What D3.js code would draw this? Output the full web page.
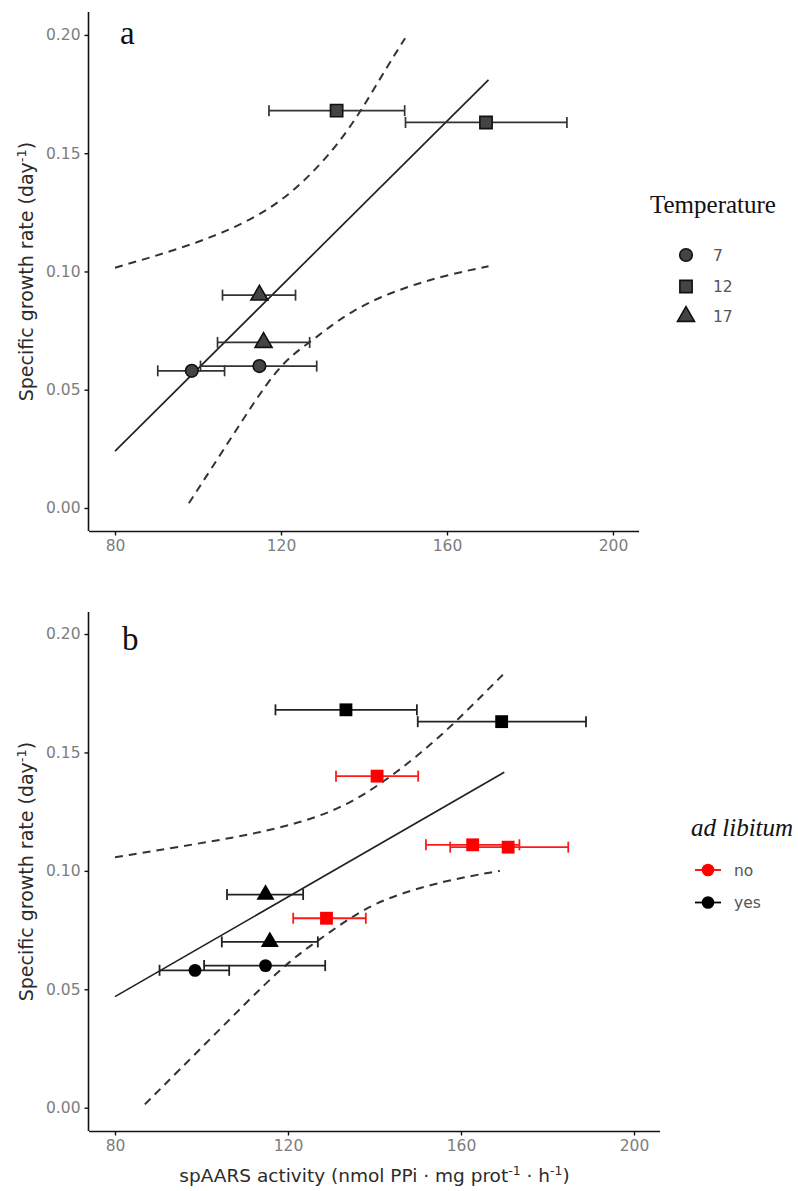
<!DOCTYPE html>
<html><head><meta charset="utf-8">
<script src="https://cdn.jsdelivr.net/npm/d3@7"></script>
<style>body{margin:0;background:#fff}svg{display:block}</style>
</head><body>
<script>
// ---------- data ----------
const xTicks = [80, 120, 160, 200];
const yTicks = [0, 0.05, 0.10, 0.15, 0.20];
const yTickLabels = ["0.00", "0.05", "0.10", "0.15", "0.20"];

const tempLevels = ["7", "12", "17"];
const tempShapes = ["circle", "square", "triangle"];
// panel a points (also ad libitum = yes in panel b)
const ptTemp = ["7", "7", "12", "12", "17", "17"];
const ptX    = [98.5, 114.8, 133.4, 169.4, 115.8, 114.8];
const ptY    = [0.058, 0.060, 0.168, 0.163, 0.070, 0.090];
const ptXmin = [90.3, 100.6, 117.1, 150.0, 104.7, 105.9];
const ptXmax = [106.4, 128.6, 149.8, 188.9, 126.9, 123.5];
// ad libitum = no (panel b, red squares)
const noX    = [140.6, 162.7, 170.9, 128.9];
const noY    = [0.140, 0.111, 0.110, 0.080];
const noXmin = [131.1, 151.9, 157.5, 121.2];
const noXmax = [150.1, 173.5, 184.8, 138.0];
const adlibLevels = ["no", "yes"];

// regression fit and confidence bands
const fitAx = [80, 170],  fitAy = [0.024, 0.181];
const upAx = [80, 100.5, 116.5, 127, 136.6, 144.6, 149.9];
const upAy = [0.1016, 0.112, 0.1246, 0.140, 0.1598, 0.1838, 0.1986];
const loAx = [97.8, 108.5, 119.3, 126.6, 132.0, 137.0, 143.9, 151.9, 159.9, 170.0];
const loAy = [0.002, 0.031, 0.0605, 0.0696, 0.077, 0.083, 0.0893, 0.0943, 0.0985, 0.1022];

const fitBx = [80, 170],  fitBy = [0.0469, 0.1416];
const upBx = [80, 99.7, 115, 130.4, 142, 153.6, 161.3, 170];
const upBy = [0.1057, 0.1116, 0.1165, 0.1243, 0.137, 0.154, 0.1675, 0.1834];
const loBx = [86.9, 102.7, 118.9, 126.6, 133.6, 142, 156.7, 169];
const loBy = [0.0014, 0.0302, 0.0602, 0.0701, 0.0793, 0.0884, 0.0961, 0.100];

// ---------- drawing ----------
const svg = d3.select("body").append("svg").attr("width", 798).attr("height", 1191);
svg.append("rect").attr("width", 798).attr("height", 1191).attr("fill", "#fff");

const sans = "DejaVu Sans, Verdana, sans-serif";
const serif = "Liberation Serif, Times New Roman, serif";

function symPath(shape, size) {
  const t = shape === "circle" ? d3.symbolCircle : shape === "square" ? d3.symbolSquare : d3.symbolTriangle;
  return d3.symbol().type(t).size(size)();
}
const shapeSize = {circle: 125, square: 150, triangle: 125};

function panel(cfg) {
  const x = d3.scaleLinear().domain(cfg.xd).range([cfg.left, cfg.right]);
  const y = d3.scaleLinear().domain(cfg.yd).range([cfg.bottom, cfg.top]);
  const g = svg.append("g");

  const xa = g.append("g").attr("transform", `translate(0,${cfg.bottom})`)
    .call(d3.axisBottom(x).tickValues(xTicks).tickSize(4.5).tickPadding(4).tickFormat(d3.format("d")));
  const ya = g.append("g").attr("transform", `translate(${cfg.left},0)`)
    .call(d3.axisLeft(y).tickValues(yTicks).tickSize(4.5).tickPadding(4).tickFormat((d, i) => yTickLabels[i]));
  [xa, ya].forEach(a => {
    a.select(".domain").attr("stroke", "#111").attr("stroke-width", 1.6);
    a.selectAll(".tick line").attr("stroke", "#111").attr("stroke-width", 1.4);
    a.selectAll(".tick text").attr("fill", "#7d7d7d").style("font-family", sans).style("font-size", "15.5px");
  });
  xa.select(".domain").attr("d", `M${cfg.left},0.5H${cfg.right}`);
  ya.select(".domain").attr("d", `M-0.5,${cfg.bottom}V${cfg.top}`);

  const yt = g.append("text")
    .attr("transform", `translate(${cfg.ytx},${(cfg.top + cfg.bottom) / 2}) rotate(-90)`)
    .attr("text-anchor", "middle").attr("fill", "#2b2b2b")
    .style("font-family", sans).style("font-size", "19px");
  yt.append("tspan").text("Specific growth rate (day");
  yt.append("tspan").attr("dy", -7).style("font-size", "13px").text("-1");
  yt.append("tspan").attr("dy", 7).text(")");

  g.append("text").attr("x", cfg.labX).attr("y", cfg.labY).text(cfg.label)
    .style("font-family", serif).style("font-size", "33px").attr("fill", "#111");

  const line = d3.line().x(d => x(d[0])).y(d => y(d[1]));
  const curve = d3.line().x(d => x(d[0])).y(d => y(d[1])).curve(d3.curveBasis);

  g.append("path").attr("d", curve(d3.zip(cfg.upx, cfg.upy))).attr("fill", "none")
    .attr("stroke", "#333").attr("stroke-width", 2).attr("stroke-dasharray", "8,6");
  g.append("path").attr("d", curve(d3.zip(cfg.lox, cfg.loy))).attr("fill", "none")
    .attr("stroke", "#333").attr("stroke-width", 2).attr("stroke-dasharray", "8,6");
  g.append("path").attr("d", line(d3.zip(cfg.fitx, cfg.fity))).attr("fill", "none")
    .attr("stroke", "#222").attr("stroke-width", 1.7);

  function errbar(col, xs, ys, x0s, x1s, sw) {
    xs.forEach((_, i) => {
      const yy = y(ys[i]);
      const eg = g.append("g").attr("stroke", col).attr("stroke-width", sw).attr("fill", "none");
      eg.append("line").attr("x1", x(x0s[i])).attr("x2", x(x1s[i])).attr("y1", yy).attr("y2", yy);
      eg.append("line").attr("x1", x(x0s[i])).attr("x2", x(x0s[i])).attr("y1", yy - 5.5).attr("y2", yy + 5.5);
      eg.append("line").attr("x1", x(x1s[i])).attr("x2", x(x1s[i])).attr("y1", yy - 5.5).attr("y2", yy + 5.5);
    });
  }
  return {x, y, g, errbar};
}

// ----- Panel a -----
const A = panel({
  xd: [73.73, 206.27], yd: [-0.00973, 0.2097],
  left: 89, right: 639, top: 12, bottom: 531,
  ytx: 33, label: "a", labX: 120, labY: 44,
  fitx: fitAx, fity: fitAy, upx: upAx, upy: upAy, lox: loAx, loy: loAy
});
A.errbar("#333", ptX, ptY, ptXmin, ptXmax, 1.7);
ptX.forEach((_, i) => {
  const sh = tempShapes[tempLevels.indexOf(ptTemp[i])];
  A.g.append("path").attr("d", symPath(sh, shapeSize[sh]))
    .attr("transform", `translate(${A.x(ptX[i])},${A.y(ptY[i])})`)
    .attr("fill", "#444").attr("stroke", "#111").attr("stroke-width", 1.6);
});

svg.append("text").attr("x", 650).attr("y", 213).text("Temperature")
  .style("font-family", serif).style("font-size", "25px").attr("fill", "#111");
const legAy = [255, 286.5, 316.5];
tempLevels.forEach((lv, i) => {
  const sh = tempShapes[i];
  svg.append("path").attr("d", symPath(sh, shapeSize[sh]))
    .attr("transform", `translate(686,${legAy[i]})`)
    .attr("fill", "#444").attr("stroke", "#111").attr("stroke-width", 1.6);
  svg.append("text").attr("x", 713).attr("y", legAy[i] + 5.5).text(lv)
    .style("font-family", sans).style("font-size", "15.5px").attr("fill", "#555");
});

// ----- Panel b -----
const B = panel({
  xd: [73.99, 206.01], yd: [-0.00984, 0.2093],
  left: 89, right: 660, top: 612, bottom: 1131,
  ytx: 33, label: "b", labX: 122, labY: 650,
  fitx: fitBx, fity: fitBy, upx: upBx, upy: upBy, lox: loBx, loy: loBy
});
B.errbar("#222", ptX, ptY, ptXmin, ptXmax, 1.8);
B.errbar("#ff1a1a", noX, noY, noXmin, noXmax, 1.8);
ptX.forEach((_, i) => {
  const sh = tempShapes[tempLevels.indexOf(ptTemp[i])];
  B.g.append("path").attr("d", symPath(sh, sh === "square" ? 165 : sh === "triangle" ? 140 : 130))
    .attr("transform", `translate(${B.x(ptX[i])},${B.y(ptY[i])})`)
    .attr("fill", "#000");
});
noX.forEach((_, i) => {
  B.g.append("path").attr("d", symPath("square", 165))
    .attr("transform", `translate(${B.x(noX[i])},${B.y(noY[i])})`)
    .attr("fill", "#ff0000");
});

const xt = svg.append("text").attr("x", 374.5).attr("y", 1182).attr("text-anchor", "middle")
  .attr("fill", "#2b2b2b").style("font-family", sans).style("font-size", "18.5px");
xt.append("tspan").text("spAARS activity (nmol PPi \u00b7 mg prot");
xt.append("tspan").attr("dy", -7).style("font-size", "12.5px").text("-1");
xt.append("tspan").attr("dy", 7).text(" \u00b7 h");
xt.append("tspan").attr("dy", -7).style("font-size", "12.5px").text("-1");
xt.append("tspan").attr("dy", 7).text(")");

svg.append("text").attr("x", 691).attr("y", 836).text("ad libitum")
  .style("font-family", serif).style("font-style", "italic").style("font-size", "25px").attr("fill", "#111");
const legBy = [870, 902.5];
const legBcol = ["#ff0000", "#000"];
adlibLevels.forEach((lv, i) => {
  svg.append("line").attr("x1", 695).attr("x2", 721).attr("y1", legBy[i]).attr("y2", legBy[i])
    .attr("stroke", legBcol[i]).attr("stroke-width", 1.8);
  svg.append("path").attr("d", symPath("circle", 125))
    .attr("transform", `translate(708,${legBy[i]})`).attr("fill", legBcol[i]);
  svg.append("text").attr("x", 734).attr("y", legBy[i] + 5.5).text(lv)
    .style("font-family", sans).style("font-size", "15.5px").attr("fill", "#555");
});
</script>
</body></html>
